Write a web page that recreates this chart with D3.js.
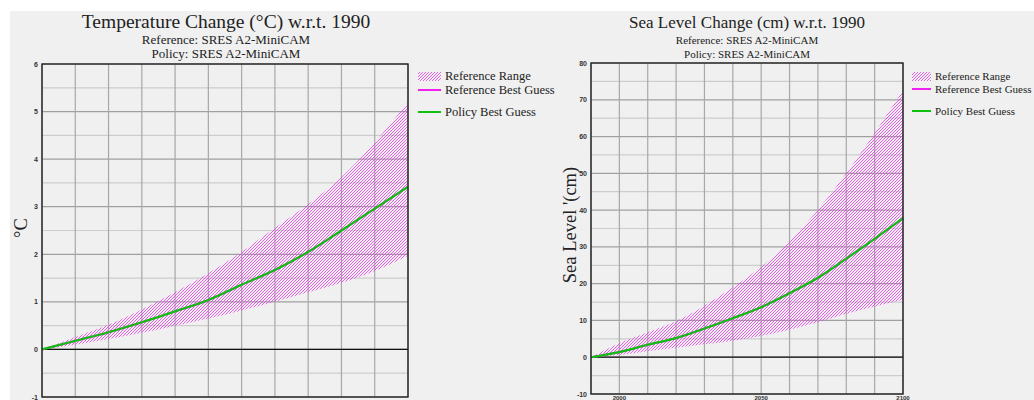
<!doctype html>
<html lang="en">
  <head>
    <meta charset="utf-8">
    <title>Temperature and sea level change</title>
    <script src="https://d3js.org/d3.v7.min.js"></script>
    <style>
      body { margin: 0; background: #fff; }
      svg { display: block; }
    </style>
  </head>

  <body>
    <svg width="1034" height="400"></svg>
    <script>
      // years shared by both panels
      var years = [1990, 2000, 2010, 2020, 2030, 2040, 2050, 2060, 2070, 2080, 2090, 2100];

      // temperature change (deg C) w.r.t. 1990
      var tempBest  = [0, 0.18, 0.36, 0.57, 0.80, 1.04, 1.36, 1.67, 2.05, 2.50, 2.96, 3.42];
      var tempHigh  = [0, 0.26, 0.52, 0.84, 1.20, 1.60, 2.05, 2.55, 3.05, 3.62, 4.35, 5.20];
      var tempLow   = [0, 0.10, 0.22, 0.35, 0.50, 0.65, 0.82, 1.00, 1.20, 1.40, 1.65, 1.97];

      // sea level change (cm) w.r.t. 1990
      var seaBest   = [0, 1.4, 3.4, 5.2, 7.8, 10.6, 13.6, 17.4, 21.6, 26.8, 32.2, 37.8];
      var seaHigh   = [0, 3.8, 6.8, 9.8, 14.0, 19.0, 24.5, 31.5, 40.0, 50.0, 61.0, 72.5];
      var seaLow    = [0, 0.6, 1.6, 2.6, 3.5, 4.5, 5.8, 7.5, 9.5, 11.8, 13.8, 15.6];

      var tempTicks = [-1, 0, 1, 2, 3, 4, 5, 6];
      var seaTicks  = [-10, 0, 10, 20, 30, 40, 50, 60, 70, 80];
      var yearTicks = [2000, 2050, 2100];
      var legendItems = ['Reference Range', 'Reference Best Guess', 'Policy Best Guess'];

      var svg = d3.select('svg');
      var magenta = '#f020f0';
      var green = '#10c010';
      var serif = '"Liberation Serif", "Times New Roman", serif';

      svg.append('rect')
        .attr('x', 10).attr('y', 11)
        .attr('width', 1024).attr('height', 389)
        .style('fill', '#f0f0f0');

      var pat = svg.append('defs').append('pattern')
        .attr('id', 'hatch')
        .attr('patternUnits', 'userSpaceOnUse')
        .attr('width', 3).attr('height', 3);
      pat.append('path')
        .attr('d', 'M-1,1 L1,-1 M0,3 L3,0 M2,4 L4,2')
        .style('stroke', '#e838ea')
        .style('stroke-width', 0.8);

      function panel(opt){
        var x = d3.scaleLinear().domain([1990, 2100]).range([opt.left, opt.right]);
        var y = d3.scaleLinear().domain(opt.domain).range([opt.bottom, opt.top]);
        var g = svg.append('g');

        // grid
        var minor = d3.range(opt.domain[0], opt.domain[1] + 0.001, opt.step / 2);
        g.selectAll('.hgrid').data(minor).enter().append('line')
          .attr('x1', opt.left).attr('x2', opt.right)
          .attr('y1', function(d){ return y(d); })
          .attr('y2', function(d){ return y(d); })
          .style('stroke', function(d, i){ return i % 2 ? '#cdcdcd' : '#a0a0a0'; })
          .style('stroke-width', 1.2);

        g.selectAll('.vgrid').data(years).enter().append('line')
          .attr('x1', function(d){ return x(d); })
          .attr('x2', function(d){ return x(d); })
          .attr('y1', opt.top).attr('y2', opt.bottom)
          .style('stroke', '#a8a8a8')
          .style('stroke-width', 1.2);

        g.append('line')
          .attr('x1', opt.left).attr('x2', opt.right)
          .attr('y1', y(0)).attr('y2', y(0))
          .style('stroke', '#111').style('stroke-width', 1.2);

        // range
        var area = d3.area()
          .x(function(d, i){ return x(years[i]); })
          .y0(function(d, i){ return y(opt.low[i]); })
          .y1(function(d){ return y(d); })
          .curve(d3.curveMonotoneX);
        g.append('path')
          .datum(opt.high)
          .attr('d', area)
          .style('fill', 'url(#hatch)');

        var line = d3.line()
          .x(function(d, i){ return x(years[i]); })
          .y(function(d){ return y(d); })
          .curve(d3.curveMonotoneX);
        g.append('path').datum(opt.best).attr('d', line)
          .style('fill', 'none').style('stroke', magenta).style('stroke-width', 2);
        g.append('path').datum(opt.best).attr('d', line)
          .style('fill', 'none').style('stroke', green).style('stroke-width', 2.2);

        // frame
        g.append('rect')
          .attr('x', opt.left).attr('y', opt.top)
          .attr('width', opt.right - opt.left).attr('height', opt.bottom - opt.top)
          .style('fill', 'none').style('stroke', '#222').style('stroke-width', 1.4);

        // tick labels
        g.selectAll('.ylab').data(opt.ticks).enter().append('text')
          .attr('x', opt.left - 4)
          .attr('y', function(d){ return y(d) + 2.5; })
          .attr('text-anchor', 'end')
          .style('font', 'bold 7px "Liberation Sans", Arial, sans-serif')
          .style('fill', '#333')
          .text(function(d){ return d; });

        if (opt.xlabels) {
          // the canvas ends just under the axis, so keep these inside it
          g.selectAll('.xlab').data(yearTicks).enter().append('text')
            .attr('x', function(d){ return x(d); })
            .attr('y', 399.5)
            .attr('text-anchor', 'middle')
            .style('font', 'bold 6px "Liberation Sans", Arial, sans-serif')
            .style('fill', '#333')
            .text(function(d){ return d; });
        }

        // titles
        g.append('text')
          .attr('x', opt.cx).attr('y', 28)
          .attr('text-anchor', 'middle')
          .style('font', opt.titleSize + 'px ' + serif).style('fill', '#222')
          .text(opt.title);
        g.append('text')
          .attr('x', opt.cx).attr('y', 44)
          .attr('text-anchor', 'middle')
          .style('font', opt.subSize + 'px ' + serif).style('fill', '#222')
          .text('Reference: SRES A2-MiniCAM');
        g.append('text')
          .attr('x', opt.cx).attr('y', 57.5)
          .attr('text-anchor', 'middle')
          .style('font', opt.subSize + 'px ' + serif).style('fill', '#222')
          .text('Policy: SRES A2-MiniCAM');

        g.append('text')
          .attr('transform', 'translate(' + opt.ylabX + ',' + opt.ylabY + ') rotate(-90)')
          .attr('text-anchor', 'middle')
          .style('font', '18.5px ' + serif).style('fill', '#222')
          .text(opt.ylabel);

        // legend
        var lx = opt.legendX;
        g.append('rect')
          .attr('x', lx).attr('y', 72).attr('width', opt.swatch).attr('height', 9)
          .style('fill', 'url(#hatch)');
        g.append('line')
          .attr('x1', lx).attr('x2', lx + opt.swatch)
          .attr('y1', opt.legendY[1] - 4).attr('y2', opt.legendY[1] - 4)
          .style('stroke', magenta).style('stroke-width', 2);
        g.append('line')
          .attr('x1', lx).attr('x2', lx + opt.swatch)
          .attr('y1', opt.legendY[2] - 4).attr('y2', opt.legendY[2] - 4)
          .style('stroke', green).style('stroke-width', 2);
        g.selectAll('.leg').data(legendItems).enter().append('text')
          .attr('x', lx + opt.swatch + 4)
          .attr('y', function(d, i){ return opt.legendY[i]; })
          .style('font', opt.legendSize + 'px ' + serif).style('fill', '#222')
          .text(function(d){ return d; });
      }

      panel({
        left: 42, right: 408, top: 64, bottom: 397,
        domain: [-1, 6], step: 1, ticks: tempTicks, xlabels: false,
        low: tempLow, high: tempHigh, best: tempBest,
        cx: 226, title: 'Temperature Change (°C) w.r.t. 1990',
        titleSize: 19.5, subSize: 13,
        ylabel: '°C', ylabX: 27, ylabY: 228,
        legendX: 418, swatch: 23, legendY: [80, 94, 116], legendSize: 12.5
      });

      panel({
        left: 591, right: 903, top: 63, bottom: 394,
        domain: [-10, 80], step: 10, ticks: seaTicks, xlabels: true,
        low: seaLow, high: seaHigh, best: seaBest,
        cx: 747, title: 'Sea Level Change (cm) w.r.t. 1990',
        titleSize: 17, subSize: 11,
        ylabel: "Sea Level '(cm)", ylabX: 576, ylabY: 225,
        legendX: 912, swatch: 19, legendY: [80, 93, 115], legendSize: 11
      });
    </script>
  </body>
</html>
